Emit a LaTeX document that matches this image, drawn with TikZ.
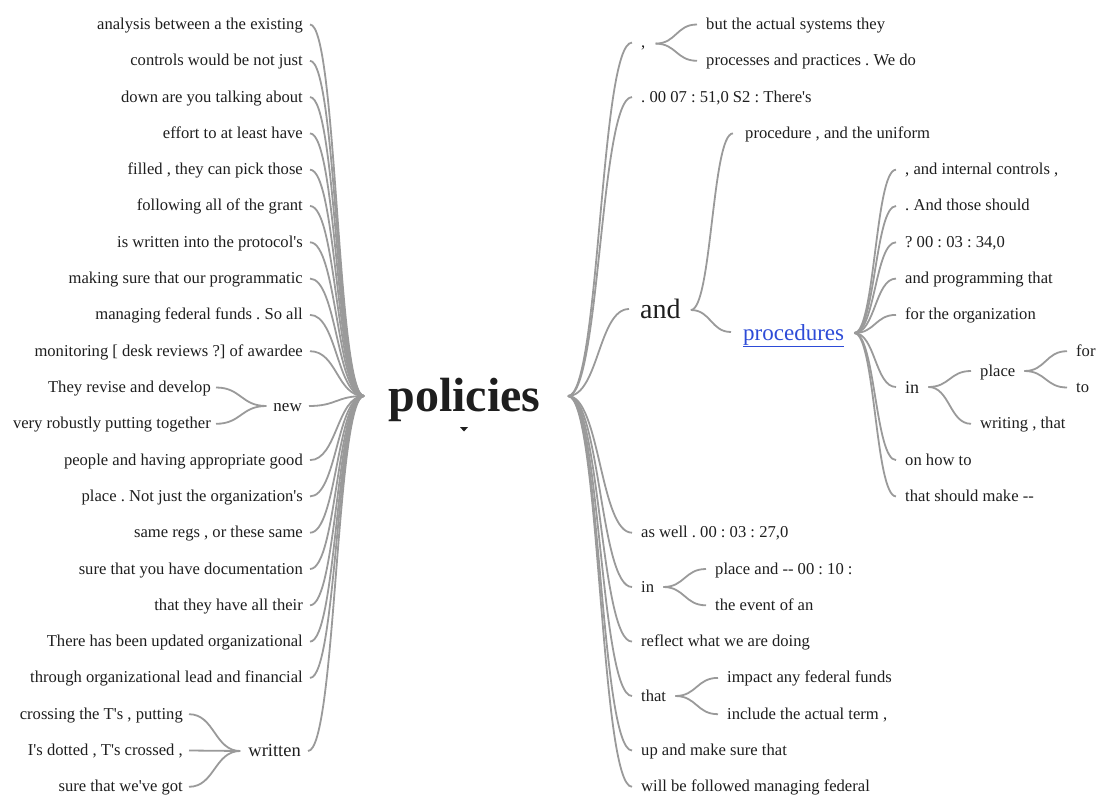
\documentclass[tikz,border=0pt]{standalone}
\usepackage{fontspec}
\setmainfont{Liberation Serif}[Ligatures=TeXOff]
\usetikzlibrary{calc}
\definecolor{ink}{HTML}{1E1E1E}
\definecolor{linkgray}{HTML}{9A9A9A}
\definecolor{linkblue}{RGB}{45,75,215}
\frenchspacing
\begin{document}
\begin{tikzpicture}[x=1pt,y=-1pt,
  txt/.style={inner sep=0pt, text=ink, font=\fontsize{16.6}{18}\selectfont},
  lw/.style={txt, anchor=base east},
  rw/.style={txt, anchor=base west},
  link/.style={draw=linkgray, line width=1.8pt},
  diag/.style={to path={let \p1=(\tikztostart), \p2=(\tikztotarget),
      \n1={0.5*(\x1+\x2)} in
      .. controls (\n1,\y1) and (\n1,\y2) .. (\tikztotarget)}}
]
\useasboundingbox (0,0) rectangle (1099,799);

% root word
\node[inner sep=0pt, text=ink, anchor=base,
      font=\fontsize{48}{50}\selectfont\bfseries] (root) at (464.5,411) {policies};
\fill[ink] (460,427) -- (468,427) -- (464,431.5) -- cycle;
\coordinate (rootL) at (364,396);
\coordinate (rootR) at (568,396);

% ---- left branch: words preceding the root ----
\node[lw] (l1)  at (303,29.5)  {analysis between a the existing};
\node[lw] (l2)  at (303,65.8)  {controls would be not just};
\node[lw] (l3)  at (303,102.1) {down are you talking about};
\node[lw] (l4)  at (303,138.4) {effort to at least have};
\node[lw] (l5)  at (303,174.7) {filled , they can pick those};
\node[lw] (l6)  at (303,211.0) {following all of the grant};
\node[lw] (l7)  at (303,247.3) {is written into the protocol's};
\node[lw] (l8)  at (303,283.6) {making sure that our programmatic};
\node[lw] (l9)  at (303,319.9) {managing federal funds . So all};
\node[lw] (l10) at (303,356.2) {monitoring [ desk reviews ?] of awardee};
\node[lw] (n1)  at (211,392.5) {They revise and develop};
\node[lw] (n2)  at (211,428.8) {very robustly putting together};
\node[lw, font=\fontsize{17}{19}\selectfont] (new) at (302,411) {new};
\node[lw] (l11) at (303,465.1) {people and having appropriate good};
\node[lw] (l12) at (303,501.4) {place . Not just the organization's};
\node[lw] (l13) at (303,537.7) {same regs , or these same};
\node[lw] (l14) at (303,574.0) {sure that you have documentation};
\node[lw] (l15) at (303,610.3) {that they have all their};
\node[lw] (l16) at (303,646.6) {There has been updated organizational};
\node[lw] (l17) at (303,682.9) {through organizational lead and financial};
\node[lw] (w1)  at (183,719.2) {crossing the T's , putting};
\node[lw] (w2)  at (183,755.5) {I's dotted , T's crossed ,};
\node[lw] (w3)  at (183,791.8) {sure that we've got};
\node[lw, font=\fontsize{18.5}{20}\selectfont] (written) at (301,756) {written};

\foreach \k in {l1,l2,l3,l4,l5,l6,l7,l8,l9,l10,new,l11,l12,l13,l14,l15,l16,l17,written}
  \draw[link] ([shift={(7,-5)}]\k.base east) to[diag] (rootL);
\foreach \k in {n1,n2}
  \draw[link] ([shift={(5,-5)}]\k.base east) to[diag] ([shift={(-7,-5)}]new.base west);
\foreach \k in {w1,w2,w3}
  \draw[link] ([shift={(6,-5)}]\k.base east) to[diag] ([shift={(-8,-5)}]written.base west);

% ---- right branch: words following the root ----
\node[rw] (c0) at (641,47.6) {,};
\node[rw] (c1) at (706,29.5) {but the actual systems they};
\node[rw] (c2) at (706,65.8) {processes and practices . We do};
\node[rw] (r2) at (641,102.1) {. 00 07 : 51,0 S2 : There's};
\node[rw, font=\fontsize{28}{30}\selectfont] (and) at (640,319) {and};
\node[rw] (p0) at (745,138.4) {procedure , and the uniform};
\node[rw, text=linkblue, font=\fontsize{23}{25}\selectfont] (procs) at (743,340) {\underline{procedures}};
\node[rw] (q1) at (905,174.7) {, and internal controls ,};
\node[rw] (q2) at (905,211.0) {. And those should};
\node[rw] (q3) at (905,247.3) {? 00 : 03 : 34,0};
\node[rw] (q4) at (905,283.6) {and programming that};
\node[rw] (q5) at (905,319.9) {for the organization};
\node[rw, font=\fontsize{18}{20}\selectfont] (qin) at (905,393) {in};
\node[rw] (pl) at (980,376) {place};
\node[rw] (f1) at (1076,356.2) {for};
\node[rw] (f2) at (1076,392.5) {to};
\node[rw] (wr) at (980,428.8) {writing , that};
\node[rw] (q6) at (905,465.1) {on how to};
\node[rw] (q7) at (905,501.4) {that should make -{}-};
\node[rw] (r3) at (641,537.7) {as well . 00 : 03 : 27,0};
\node[rw] (in1) at (641,592) {in};
\node[rw] (i1) at (715,574.0) {place and -{}- 00 : 10 :};
\node[rw] (i2) at (715,610.3) {the event of an};
\node[rw] (r4) at (641,646.6) {reflect what we are doing};
\node[rw] (th) at (641,701) {that};
\node[rw] (t1) at (727,682.9) {impact any federal funds};
\node[rw] (t2) at (727,719.2) {include the actual term ,};
\node[rw] (r5) at (641,755.5) {up and make sure that};
\node[rw] (r6) at (641,791.8) {will be followed managing federal};

\foreach \k in {c0,r2,r3,in1,r4,th,r5,r6}
  \draw[link] (rootR) to[diag] ([shift={(-9,-5)}]\k.base west);
\draw[link] (rootR) to[diag] ([shift={(-11,-10)}]and.base west);
\foreach \k in {c1,c2}
  \draw[link] ([shift={(10,-4)}]c0.base east) to[diag] ([shift={(-9,-5)}]\k.base west);
\draw[link] ([shift={(10,-9)}]and.base east) to[diag] ([shift={(-12,-5)}]p0.base west);
\draw[link] ([shift={(10,-9)}]and.base east) to[diag] ([shift={(-12,-8)}]procs.base west);
\foreach \k in {q1,q2,q3,q4,q5,q6,q7}
  \draw[link] ([shift={(10,-7)}]procs.base east) to[diag] ([shift={(-9,-5)}]\k.base west);
\draw[link] ([shift={(10,-7)}]procs.base east) to[diag] ([shift={(-9,-6)}]qin.base west);
\foreach \k in {pl,wr}
  \draw[link] ([shift={(9,-6)}]qin.base east) to[diag] ([shift={(-9,-5)}]\k.base west);
\foreach \k in {f1,f2}
  \draw[link] ([shift={(9,-5)}]pl.base east) to[diag] ([shift={(-9,-5)}]\k.base west);
\foreach \k in {i1,i2}
  \draw[link] ([shift={(9,-5)}]in1.base east) to[diag] ([shift={(-9,-5)}]\k.base west);
\foreach \k in {t1,t2}
  \draw[link] ([shift={(9,-5)}]th.base east) to[diag] ([shift={(-9,-5)}]\k.base west);
\end{tikzpicture}
\end{document}
